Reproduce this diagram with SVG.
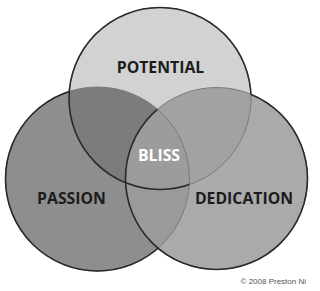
<svg xmlns="http://www.w3.org/2000/svg" width="320" height="291" viewBox="0 0 320 291">
<defs>
<style>
.lbl{font-family:"Open Sans","Liberation Sans",sans-serif;font-weight:bold;font-size:15.8px;fill:#1c1c1c;text-anchor:middle}
.faint{fill:none;stroke:#7a7a7a;stroke-width:1}
.dark{fill:none;stroke:#2a2a2a;stroke-width:1.6}
</style>
<circle id="cT" cx="160" cy="98.5" r="91"/>
<circle id="cL" cx="97.5" cy="179" r="92"/>
<circle id="cR" cx="216.5" cy="178.5" r="91"/>
<clipPath id="clipT"><use href="#cT"/></clipPath>
<clipPath id="clipL"><use href="#cL"/></clipPath>
<clipPath id="clipR"><use href="#cR"/></clipPath>
<mask id="mL" maskUnits="userSpaceOnUse" x="0" y="0" width="320" height="291">
<rect width="320" height="291" fill="#fff"/>
<use href="#cT" fill="#000"/><use href="#cR" fill="#000"/>
</mask>
<mask id="mR" maskUnits="userSpaceOnUse" x="0" y="0" width="320" height="291">
<rect width="320" height="291" fill="#fff"/>
<use href="#cT" fill="#000"/><use href="#cL" fill="#fff"/>
</mask>
<mask id="mT" maskUnits="userSpaceOnUse" x="0" y="0" width="320" height="291">
<rect width="320" height="291" fill="#fff"/>
<use href="#cR" fill="#000"/><use href="#cL" fill="#fff"/>
</mask>
</defs>
<rect width="320" height="291" fill="#fff"/>
<g id="fills">
<use href="#cL" fill="#8e8e8e"/>
<use href="#cR" fill="#aaaaaa"/>
<use href="#cT" fill="#d2d2d2"/>
<g clip-path="url(#clipT)"><use href="#cL" fill="#7c7c7c"/><use href="#cR" fill="#a2a2a2"/></g>
<g clip-path="url(#clipL)"><use href="#cR" fill="#9a9a9a"/></g>
<g clip-path="url(#clipT)"><g clip-path="url(#clipL)"><use href="#cR" fill="#9c9c9c"/></g></g>
</g>
<g id="outlines">
<use href="#cL" class="faint"/>
<use href="#cR" class="faint"/>
<use href="#cT" class="faint"/>
<use href="#cL" class="dark" mask="url(#mL)"/>
<use href="#cR" class="dark" mask="url(#mR)"/>
<use href="#cT" class="dark" mask="url(#mT)"/>
</g>
<g id="potential"><text class="lbl" x="160.5" y="72.5">POTENTIAL</text></g>
<g id="passion"><text class="lbl" x="71.5" y="203.5">PASSION</text></g>
<g id="dedication"><text class="lbl" x="244" y="203.5">DEDICATION</text></g>
<g id="bliss"><text class="lbl" x="159" y="160.5" style="fill:#fff">BLISS</text></g>
<text x="306" y="284" font-family="Liberation Sans, Arial, sans-serif" font-size="8" fill="#555" text-anchor="end">© 2008 Preston Ni</text>
</svg>
